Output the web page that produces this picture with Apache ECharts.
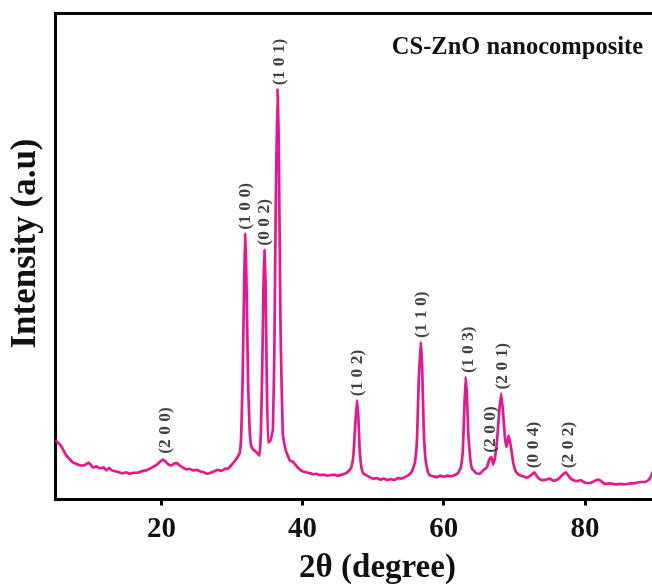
<!DOCTYPE html>
<html>
<head>
<meta charset="utf-8">
<script src="https://cdn.jsdelivr.net/npm/echarts@6/dist/echarts.min.js"></script>
<style>html,body{margin:0;padding:0;background:#fff;}#c{width:652px;height:586px;}</style>
</head>
<body>
<div id="c"></div>
<script>
// 2θ (degree) values
const twoTheta = [
  5.0,5.3,5.8,6.5,7.0,7.4,8.0,8.6,9.2,9.7,10.3,10.8,11.3,11.8,12.2,12.6,13.0,13.5,14.0,14.5,15.0,15.5,16.0,16.5,16.9,17.4,17.9,18.3,18.7,19.2,19.7,20.2,20.6,21.0,21.4,21.8,22.2,22.6,23.0,23.5,24.0,24.5,25.0,25.5,26.0,26.5,27.0,27.5,28.0,28.5,29.0,29.5,30.1,30.6,31.1,31.3,31.5,31.7,31.85,32.0,32.15,32.3,32.5,32.7,33.0,33.4,33.9,34.1,34.3,34.45,34.6,34.75,34.9,35.1,35.4,35.6,35.8,36.0,36.2,36.45,36.6,36.75,36.9,37.2,37.6,38.2,38.6,39.3,40.0,40.5,41.0,41.5,42.0,42.5,43.0,43.5,44.0,44.5,45.0,45.5,46.0,46.5,46.9,47.2,47.45,47.7,47.9,48.1,48.35,48.6,49.0,49.5,50.0,50.5,51.0,51.5,52.0,52.5,53.0,53.5,54.0,54.5,55.0,55.5,55.9,56.2,56.45,56.75,56.95,57.15,57.4,57.7,58.0,58.5,59.0,59.5,60.0,60.5,61.0,61.5,62.0,62.4,62.7,62.9,63.1,63.3,63.5,63.75,64.0,64.6,65.1,65.6,66.1,66.45,66.75,67.0,67.25,67.55,67.85,68.15,68.4,68.65,68.9,69.2,69.5,69.85,70.2,70.7,71.2,71.7,72.2,72.6,72.85,73.1,73.5,74.0,74.5,75.0,75.5,76.0,76.5,77.0,77.3,77.6,78.0,78.5,79.0,79.4,79.8,80.2,80.7,81.2,81.8,82.2,82.6,83.0,83.5,84.0,84.5,85.0,85.5,86.0,86.5,87.0,87.5,88.0,88.5,89.0,89.3,89.6,90.0
];
// Intensity (a.u.)
const intensity = [
  12.2,11.8,11.0,9.1,8.3,7.7,7.3,7.0,7.1,7.6,6.6,6.8,6.4,6.6,6.0,6.5,6.0,5.8,5.6,5.4,5.6,5.3,5.5,5.5,5.6,5.9,6.0,6.3,6.6,7.0,7.6,8.2,7.8,7.2,7.0,7.4,7.5,7.0,6.6,6.2,6.3,6.0,6.1,5.8,5.6,5.3,5.5,5.8,6.1,5.9,6.3,6.4,7.4,8.3,9.6,13,24,42,54.7,49,36,23,14.5,11.2,10.3,9.8,9.0,14,28,43,51.4,45,28,11.7,12.0,13,14.5,30,60,84.4,76,55,33,13.5,10.2,8.0,7.8,6.6,5.8,5.6,5.4,5.2,5.3,5.0,5.1,4.9,5.0,5.1,4.9,5.1,5.3,5.8,6.6,9,15,20.4,17,10,6.5,5.4,5.0,4.6,4.3,4.4,4.1,4.3,4.0,4.2,4.0,4.4,4.3,4.6,5.0,5.8,7.5,12,24,32.4,27,15,8.5,6.0,5.0,4.8,4.6,4.9,4.7,4.9,4.8,5.0,5.4,6.5,10,18,25.2,21,13,8.5,6.4,5.4,5.3,6.0,6.6,8.2,8.8,7.2,8.5,12,18,21.8,18,13,10.8,13.2,11,7.5,5.8,5.0,4.8,4.5,4.8,5.3,5.6,5.0,4.3,4.0,4.1,4.3,3.9,4.0,4.6,5.3,5.6,5.0,4.3,3.9,3.8,4.0,3.6,3.4,3.4,3.7,4.1,3.9,3.4,3.2,3.3,3.2,3.1,3.2,3.1,3.2,3.3,3.3,3.5,3.6,3.6,4.0,4.6,5.6,7.5,11
];
// Peak annotations
const hklText = ['(2 0 0)','(1 0 0)','(0 0 2)','(1 0 1)','(1 0 2)','(1 1 0)','(1 0 3)','(2 0 0)','(2 0 1)','(0 0 4)','(2 0 2)'];
const hklPos = [20.6, 31.85, 34.6, 36.7, 47.75, 56.8, 63.5, 66.6, 68.3, 72.75, 77.7];
const hklHeight = [8.6, 54.7, 51.4, 84.4, 20.4, 32.4, 25.2, 8.8, 21.8, 5.6, 5.6];
const xTicks = [20, 40, 60, 80];

const lineData = twoTheta.map((x, i) => [x, intensity[i]]);
const labelData = hklText.map((t, i) => ({ value: [hklPos[i], hklHeight[i]], name: t }));

const chart = echarts.init(document.getElementById('c'), null, { renderer: 'canvas' });
const serif = 'Liberation Serif, Times New Roman, serif';
chart.setOption({
  animation: false,
  backgroundColor: '#fff',
  grid: { left: 55.5, top: 13.5, width: 600, height: 486, containLabel: false, outerBoundsMode: 'none', show: true, borderColor: '#000', borderWidth: 3, backgroundColor: 'transparent' },
  title: {
    text: 'CS-ZnO nanocomposite', right: 4, top: 30,
    textStyle: { fontFamily: serif, fontWeight: 'bold', fontSize: 24.5, color: '#111' }
  },
  xAxis: {
    type: 'value', min: 5, max: 90,
    name: '2θ (degree)', nameLocation: 'middle', nameGap: 52,
    nameTextStyle: { fontFamily: serif, fontWeight: 'bold', fontSize: 33, color: '#111', padding: [0, 0, 0, 44] },
    axisLine: { show: true, lineStyle: { color: '#000', width: 3 } },
    axisTick: { show: true, inside: false, length: 6, lineStyle: { color: '#000', width: 3 }, customValues: xTicks },
    axisLabel: { customValues: xTicks, margin: 16, fontFamily: serif, fontWeight: 'bold', fontSize: 29, color: '#111' },
    splitLine: { show: false }
  },
  yAxis: {
    type: 'value', min: 0, max: 100,
    name: 'Intensity (a.u)', nameLocation: 'middle', nameGap: 12, nameRotate: 90,
    nameTextStyle: { fontFamily: serif, fontWeight: 'bold', fontSize: 35, color: '#111', padding: [0, 0, 0, 26] },
    axisLine: { show: true, lineStyle: { color: '#000', width: 3 } },
    axisTick: { show: false }, axisLabel: { show: false }, splitLine: { show: false }
  },
  series: [
    {
      type: 'line', data: lineData, showSymbol: false, smooth: 0.1,
      lineStyle: { color: '#e8168a', width: 2.7 }, z: 3
    },
    {
      type: 'scatter', data: labelData, symbolSize: 0, silent: true,
      label: {
        show: true, position: 'top', distance: 4, rotate: 90,
        align: 'left', verticalAlign: 'middle',
        formatter: p => p.name,
        fontFamily: serif, fontWeight: 'bold', fontSize: 17.5, color: '#111'
      }, z: 4
    }
  ]
});
</script>
</body>
</html>
